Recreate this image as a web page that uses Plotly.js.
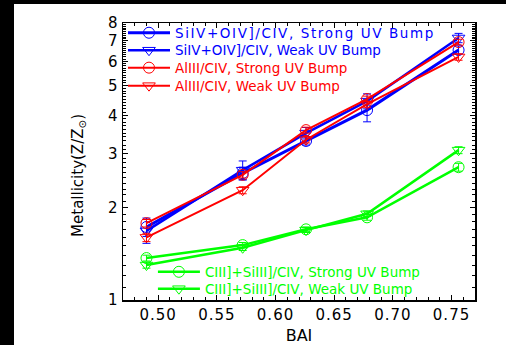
<!DOCTYPE html>
<html>
<head>
<meta charset="utf-8">
<script src="https://cdn.plot.ly/plotly-3.0.1.min.js"></script>
<style>
  html, body { margin:0; padding:0; background:#000; width:506px; height:345px; overflow:hidden; }
  #chart { position:absolute; left:14px; top:4px; width:492px; height:341px; background:#fff; }
  .legendtext { letter-spacing:1.6px; }
  .xtick text, .ytick text { letter-spacing:1px; }
</style>
</head>
<body>
<div id="chart"></div>
<script>
// BAI values
var bai = [0.49, 0.572, 0.626, 0.678, 0.756];

// Metallicity (Z/Zsun)
var siStrong = [1.73, 2.59, 3.30, 4.16, 6.53];
var siWeak   = [1.68, 2.65, 3.50, 4.45, 7.15];
var alStrong = [1.78, 2.56, 3.58, 4.52, 6.93];
var alWeak   = [1.60, 2.28, 3.33, 4.35, 6.20];
var cStrong  = [1.37, 1.51, 1.70, 1.86, 2.71];
var cWeak    = [1.30, 1.48, 1.69, 1.91, 3.08];

// errors
var siStrongErr = [0.12, 0.12, 0.10, 0.35, 0.20];
var siWeakErr   = [0.15, 0.19, 0.15, 0.25, 0.25];
var alStrongErr = [0.05, 0.06, 0.08, 0.10, 0.15];
var alWeakErr   = [0.05, 0.06, 0.08, 0.10, 0.15];
var cStrongErr  = [0.03, 0.03, 0.03, 0.04, 0.08];
var cWeakErr    = [0.03, 0.03, 0.03, 0.04, 0.08];

var names = [
  'SiIV+OIV]/CIV, Strong UV Bump',
  'SiIV+OIV]/CIV, Weak UV Bump',
  'AlIII/CIV, Strong UV Bump',
  'AlIII/CIV, Weak UV Bump',
  'CIII]+SiIII]/CIV, Strong UV Bump',
  'CIII]+SiIII]/CIV, Weak UV Bump'
];

var yTickVals = [1, 2, 3, 4, 5, 6, 7, 8];
var xTickVals = [0.50, 0.55, 0.60, 0.65, 0.70, 0.75];
var xTickText = ['0.50', '0.55', '0.60', '0.65', '0.70', '0.75'];

var BLUE = '#0000ff', RED = '#ff0000', GREEN = '#00ff00';

function mk(y, err, name, color, symbol, lw, leg) {
  return {
    x: bai, y: y, name: name, type: 'scatter', mode: 'lines+markers',
    legend: leg,
    line: { color: color, width: lw },
    marker: { symbol: symbol, size: 11, color: color, line: { color: color, width: 1 } },
    error_y: { type: 'data', array: err, visible: true, color: color, thickness: 1, width: 4 }
  };
}

var traces = [
  mk(siStrong, siStrongErr, names[0], BLUE, 'circle-open', 3, 'legend'),
  mk(siWeak, siWeakErr, names[1], BLUE, 'triangle-down-open', 2.5, 'legend2'),
  mk(alStrong, alStrongErr, names[2], RED, 'circle-open', 2, 'legend3'),
  mk(alWeak, alWeakErr, names[3], RED, 'triangle-down-open', 2, 'legend4'),
  mk(cStrong, cStrongErr, names[4], GREEN, 'circle-open', 2.5, 'legend5'),
  mk(cWeak, cWeakErr, names[5], GREEN, 'triangle-down-open', 2.5, 'legend6')
];

var yMinor = [];
for (var k = 1; k < 8; k++) { for (var j = 1; j < 10; j++) { yMinor.push(+(k + j / 10).toFixed(1)); } }
var xMinor = [];
for (var m = 47; m <= 77; m++) { if (m % 5 !== 0) xMinor.push(m / 100); }

var FONT = 'DejaVu Sans';
function leg(x, y, color) {
  return { x: x, y: y, xanchor: 'left', yanchor: 'middle', bgcolor: 'rgba(0,0,0,0)', borderwidth: 0,
           font: { family: FONT, size: 13.5, color: color }, itemwidth: 42, tracegroupgap: 0 };
}

var layout = {
  width: 492, height: 341,
  margin: { l: 109, r: 31, t: 19, b: 45 },
  paper_bgcolor: '#fff', plot_bgcolor: '#fff',
  font: { family: FONT, size: 15, color: '#000' },
  showlegend: true,
  legend:  leg(0.0, 0.964, BLUE),
  legend2: leg(0.0, 0.901, BLUE),
  legend3: leg(0.0, 0.838, RED),
  legend4: leg(0.0, 0.773, RED),
  legend5: leg(0.085, 0.101, GREEN),
  legend6: leg(0.085, 0.040, GREEN),
  xaxis: {
    range: [0.47, 0.77], showline: true, linecolor: '#000', linewidth: 1.5, mirror: 'ticks',
    ticks: 'inside', ticklen: 5, tickwidth: 1, tickcolor: '#000',
    tickmode: 'array', tickvals: xTickVals, ticktext: xTickText,
    minor: { tickmode: 'array', tickvals: xMinor, ticks: 'inside', ticklen: 3, tickcolor: '#000', tickwidth: 1 },
    showgrid: false, zeroline: false,
    tickfont: { family: FONT, size: 15, color: '#000' },
    title: { text: 'BAI', font: { family: FONT, size: 16, color: '#000' }, standoff: 7 }
  },
  yaxis: {
    type: 'log', range: [0, Math.log10(8)], showline: true, linecolor: '#000', linewidth: 1.5, mirror: 'ticks',
    ticks: 'inside', ticklen: 5, tickwidth: 1, tickcolor: '#000',
    tickmode: 'array', tickvals: yTickVals, ticktext: yTickVals.map(String),
    minor: { tickmode: 'array', tickvals: yMinor, ticks: 'inside', ticklen: 3, tickcolor: '#000', tickwidth: 1 },
    showgrid: false, zeroline: false,
    tickfont: { family: FONT, size: 15, color: '#000' }
  },
  annotations: [{
    text: 'Metallicity(Z/Z<sub>⊙</sub>)', xref: 'paper', yref: 'paper',
    x: -0.125, y: 0.448, xanchor: 'center', yanchor: 'middle', textangle: -90, showarrow: false,
    font: { family: FONT, size: 15, color: '#000' }
  }]
};

Plotly.newPlot('chart', traces, layout, { displayModeBar: false, staticPlot: true });
</script>
</body>
</html>
